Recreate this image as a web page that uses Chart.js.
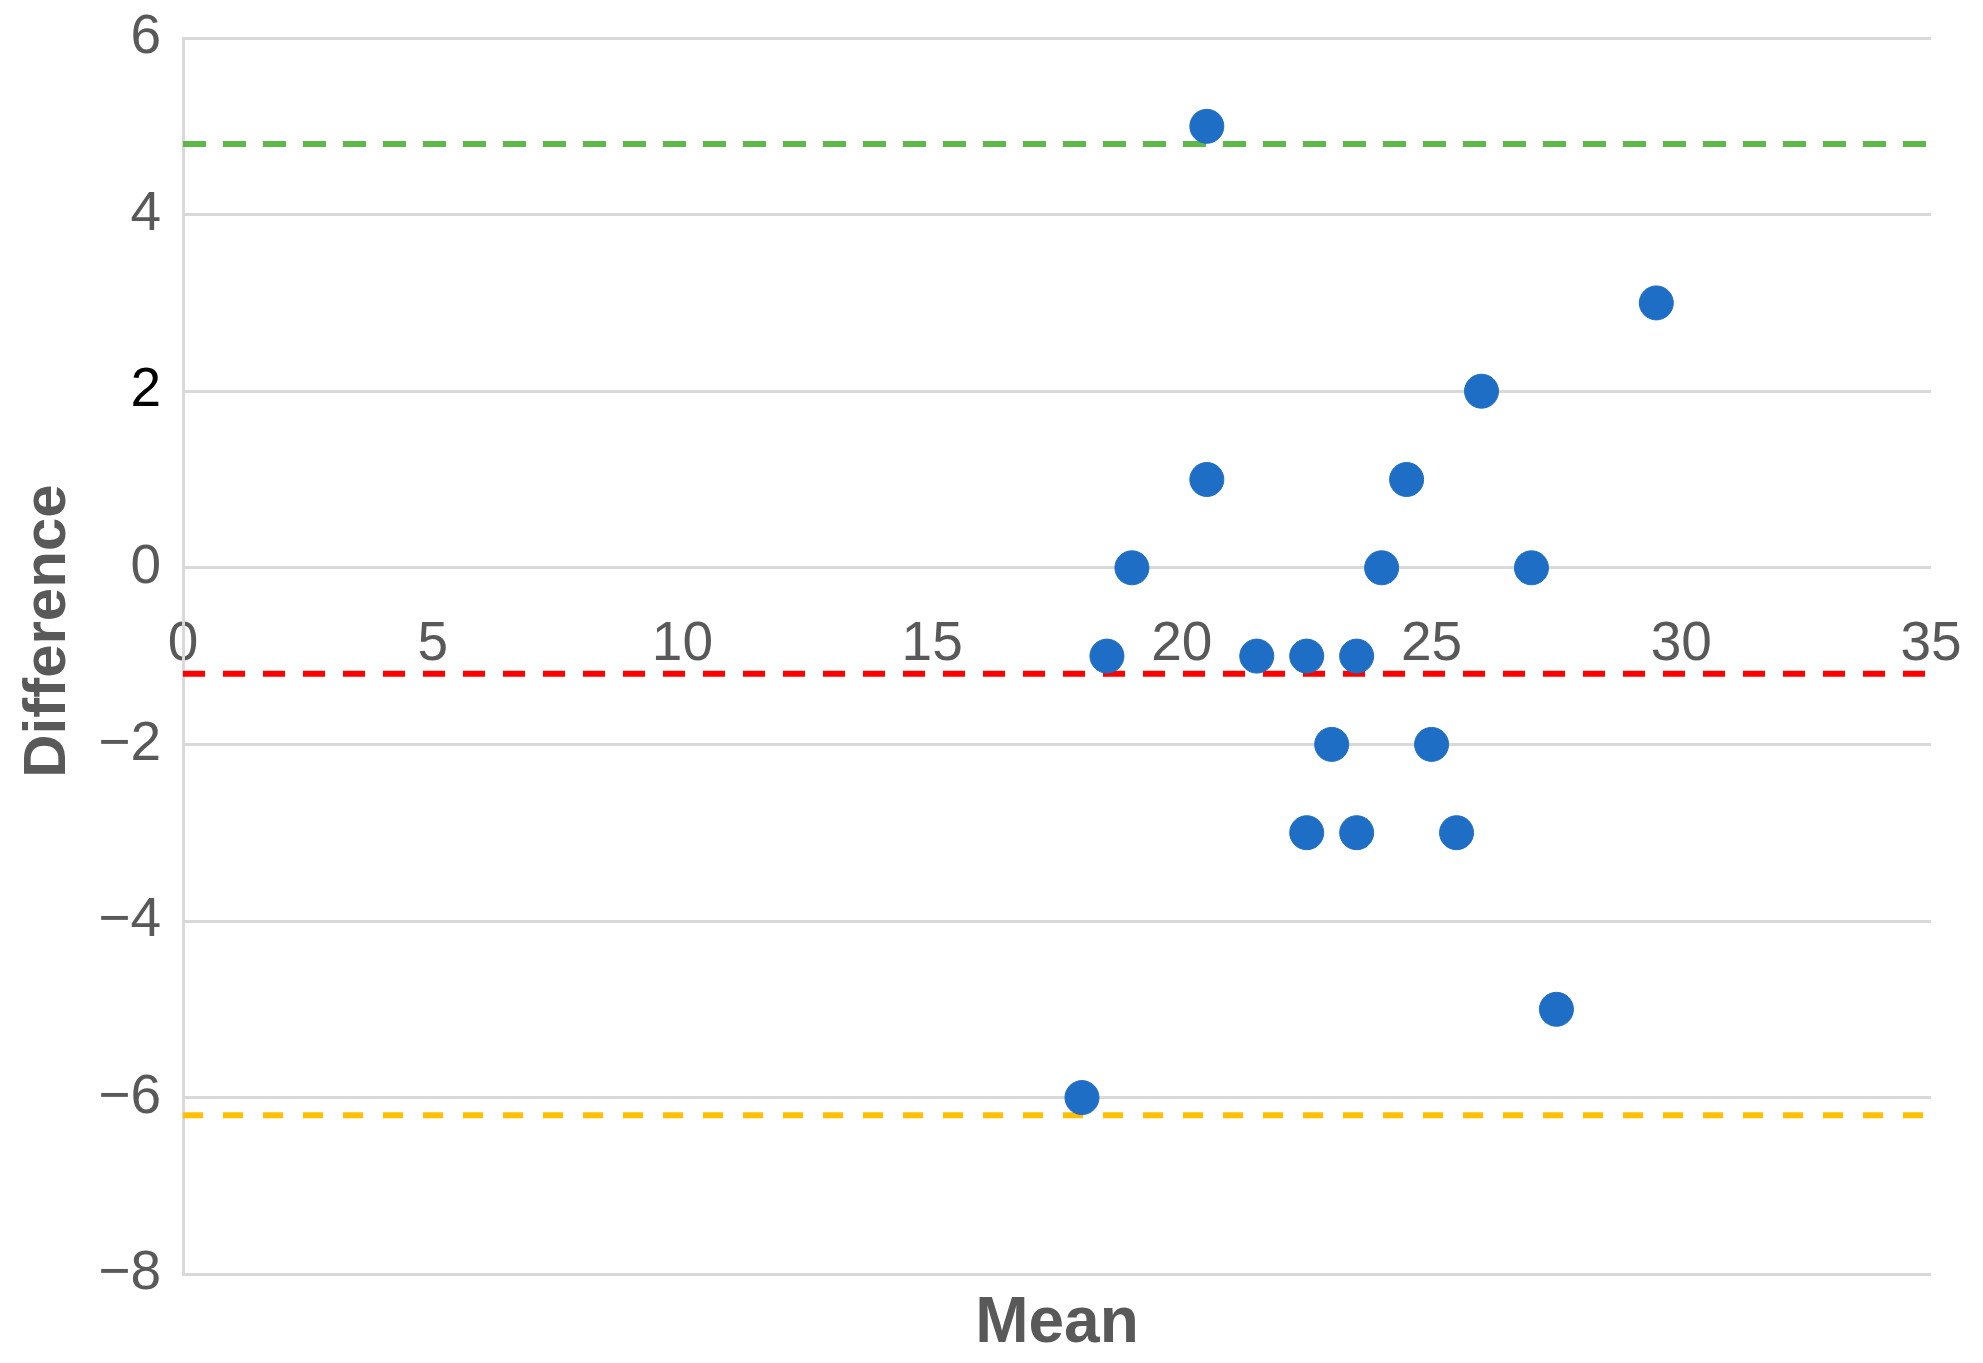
<!DOCTYPE html>
<html>
<head>
<meta charset="utf-8">
<script src="https://cdn.jsdelivr.net/npm/chart.js@4/dist/chart.umd.min.js"></script>
<style>
  html, body { margin: 0; padding: 0; background: #fff; }
  #wrap { width: 1983px; height: 1363px; }
</style>
</head>
<body>
<div id="wrap"><canvas id="myChart"></canvas></div>
<script>
// mean of the two measurements and their difference
var meanVals = [20.5, 29.5, 26, 20.5, 24.5, 19, 24, 27, 18.5, 21.5, 22.5, 23.5, 23, 25, 22.5, 23.5, 25.5, 27.5, 18];
var diffVals = [5, 3, 2, 1, 1, 0, 0, 0, -1, -1, -1, -1, -2, -2, -3, -3, -3, -5, -6];

// reference lines: upper limit, mean difference, lower limit
var upperLimit = 4.8;
var meanDiff = -1.2;
var lowerLimit = -6.2;

var xTicks = [0, 5, 10, 15, 20, 25, 30, 35];
var yTicks = [-8, -6, -4, -2, 0, 2, 4, 6];

var points = meanVals.map(function (m, i) { return { x: m, y: diffVals[i] }; });

function hline(y) {
    return [{ x: xTicks[0], y: y }, { x: xTicks[xTicks.length - 1], y: y }];
}

// keep tick labels from pushing the plot area around
function noPad(scale) {
    scale.paddingTop = 0;
    scale.paddingBottom = 0;
    scale.paddingLeft = 0;
    scale.paddingRight = 0;
}

var gray = '#595959';
var fontFam = "'Liberation Sans', Arial, sans-serif";

var ctx = document.getElementById("myChart").getContext('2d');
var baChart = new Chart(ctx, {
    type: 'scatter',
    data: {
        datasets: [{
            label: 'Difference',
            data: points,
            backgroundColor: '#1f6ec6',
            borderColor: '#1f6ec6',
            pointRadius: 17,
            pointHoverRadius: 17
        }, {
            type: 'line',
            label: 'Upper limit',
            data: hline(upperLimit),
            borderColor: '#5cb94a',
            borderWidth: 6,
            borderDash: [23, 17],
            pointRadius: 0,
            fill: false
        }, {
            type: 'line',
            label: 'Mean',
            data: hline(meanDiff),
            borderColor: '#ff0000',
            borderWidth: 6,
            borderDash: [22, 18],
            pointRadius: 0,
            fill: false
        }, {
            type: 'line',
            label: 'Lower limit',
            data: hline(lowerLimit),
            borderColor: '#ffc000',
            borderWidth: 6,
            borderDash: [20, 20],
            pointRadius: 0,
            fill: false
        }]
    },
    options: {
        responsive: true,
        maintainAspectRatio: false,
        animation: false,
        events: [],
        layout: { padding: { left: 0, right: 52, top: 38, bottom: 0 } },
        plugins: {
            legend: { display: false },
            tooltip: { enabled: false },
            title: {
                display: true,
                position: 'bottom',
                fullSize: false,
                text: 'Mean',
                color: gray,
                font: { family: fontFam, size: 64, weight: 'bold', lineHeight: 1.2 },
                padding: { top: 12, bottom: 0 }
            }
        },
        scales: {
            x: {
                type: 'linear',
                position: { y: 0 },
                min: 0,
                max: 35,
                afterBuildTicks: function (scale) {
                    scale.ticks = xTicks.map(function (v) { return { value: v }; });
                },
                afterFit: noPad,
                grid: { display: false, drawTicks: false },
                border: { display: false },
                ticks: {
                    color: gray,
                    padding: 44,
                    maxRotation: 0,
                    font: { family: fontFam, size: 55 }
                }
            },
            y: {
                type: 'linear',
                position: 'left',
                min: -8,
                max: 6,
                afterBuildTicks: function (scale) {
                    scale.ticks = yTicks.map(function (v) { return { value: v }; });
                },
                afterFit: function (scale) {
                    noPad(scale);
                    scale.width = 183;
                },
                grid: { color: '#d9d9d9', lineWidth: 3, drawTicks: false },
                border: { display: true, color: '#d9d9d9', width: 3 },
                ticks: {
                    padding: 22,
                    color: function (c) { return c.tick && c.tick.value === 2 ? '#000000' : gray; },
                    font: { family: fontFam, size: 55 },
                    callback: function (v) { return v < 0 ? '\u2212' + Math.abs(v) : String(v); }
                },
                title: {
                    display: true,
                    text: '   Difference',
                    color: gray,
                    font: { family: fontFam, size: 60, weight: 'bold', lineHeight: 1.2 },
                    padding: { top: 12, bottom: 0 }
                }
            }
        }
    }
});
</script>
</body>
</html>
